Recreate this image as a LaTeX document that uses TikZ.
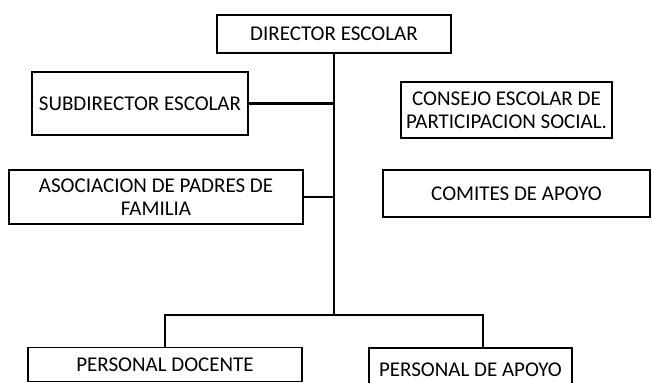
\documentclass[tikz,border=0pt]{standalone}
\usepackage{fontspec}
\setmainfont{Carlito}
\begin{document}
\begin{tikzpicture}[x=0.5pt, y=-0.5pt,
	caja/.style={draw, line width=0.9pt, align=center, inner sep=0pt,
		font=\fontsize{10.5}{11.5}\selectfont},
	linea/.style={line width=1.4pt}]
	\useasboundingbox (0, 0) rectangle (652, 383);
	\clip (0, 0) rectangle (652, 383);

	% cajas
	\node[caja, minimum width=117pt, minimum height=19pt] (director) at (334, 34) {DIRECTOR ESCOLAR};
	\node[caja, minimum width=108pt, minimum height=31.5pt] (subdirector) at (140, 103.5) {SUBDIRECTOR ESCOLAR};
	\node[caja, minimum width=147pt, minimum height=27pt] (padres) at (156, 197) {ASOCIACION DE PADRES DE\\FAMILIA};
	\node[caja, minimum width=105.5pt, minimum height=28pt] (consejo) at (506.5, 110) {CONSEJO ESCOLAR DE\\PARTICIPACION SOCIAL.};
	\node[caja, minimum width=133.5pt, minimum height=23.5pt] (comites) at (516.5, 193.5) {COMITES DE APOYO};
	\node[caja, minimum width=137pt, minimum height=17pt] (docente) at (165, 364.5) {PERSONAL DOCENTE};
	\node[caja, minimum width=101.5pt, minimum height=21.5pt] (apoyo) at (470.5, 369.5) {PERSONAL DE APOYO};

	% lineas
	\coordinate (tronco) at (334, 315);
	\coordinate (izq) at (165, 315);
	\coordinate (der) at (483, 315);
	\draw[linea] (director.south) -- (tronco);
	\draw[linea] (subdirector.east) -- (subdirector.east -| tronco);
	\draw[linea] (padres.east) -- (padres.east -| tronco);
	\draw[linea] (docente.north) -- (izq) -- (der) -- (der |- apoyo.north);
\end{tikzpicture}
\end{document}
